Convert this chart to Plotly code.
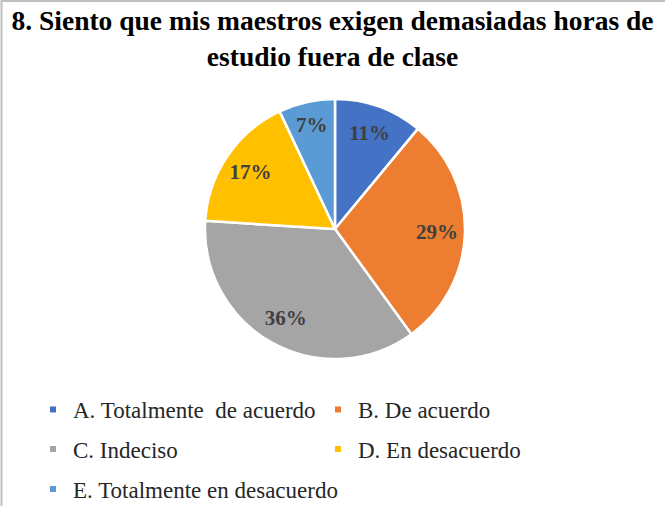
import plotly.graph_objects as go

categories = ["A. Totalmente\u00a0 de acuerdo", "B. De acuerdo", "C. Indeciso",
              "D. En desacuerdo", "E. Totalmente en desacuerdo"]
values = [11, 29, 36, 17, 7]
colors = ["#4472C4", "#ED7D31", "#A5A5A5", "#FFC000", "#5B9BD5"]
title_text = "8. Siento que mis maestros exigen demasiadas horas de<br>estudio fuera de clase"

W, H = 665, 506
SERIF = "Liberation Serif"
pie_domain = dict(x=[205 / W, 465 / W], y=[(H - 359) / H, (H - 99) / H])

fig = go.Figure()
# base pie (filled slices)
fig.add_trace(go.Pie(
    labels=categories, values=values, sort=False, direction="clockwise", rotation=0,
    marker=dict(colors=colors, line=dict(color="white", width=2.5)),
    textinfo="none", showlegend=False, hoverinfo="label+percent",
    domain=pie_domain,
))
# label layer (transparent ring, moves data labels outward like the original)
fig.add_trace(go.Pie(
    labels=categories, values=values, sort=False, direction="clockwise", rotation=0,
    hole=0.57,
    marker=dict(colors=["rgba(0,0,0,0)"] * len(values), line=dict(width=0)),
    texttemplate="%{percent:.0%}", textposition="inside", insidetextorientation="horizontal",
    textfont=dict(family=SERIF, size=21, color="#404040", weight="bold"),
    showlegend=False, hoverinfo="skip",
    domain=pie_domain,
))

legend_rows = ["legend", "legend", "legend2", "legend2", "legend3"]
for name, col, lg in zip(categories, colors, legend_rows):
    fig.add_trace(go.Scatter(
        x=[None], y=[None], mode="markers", name=name, legend=lg,
        marker=dict(symbol="square", size=6, color=col), hoverinfo="skip",
    ))

leg_font = dict(family=SERIF, size=23, color="#262626")
leg_common = dict(orientation="h", xanchor="left", yanchor="middle",
                  entrywidthmode="pixels", font=leg_font,
                  bgcolor="rgba(0,0,0,0)", borderwidth=0, itemwidth=30)
x_leg = 33 / W
fig.update_layout(
    width=W, height=H, margin=dict(l=0, r=0, t=0, b=0, autoexpand=False),
    paper_bgcolor="white", plot_bgcolor="white",
    title=dict(text=title_text, x=0.5, xanchor="center", y=1 - 30 / H, yanchor="top",
               xref="paper", yref="paper",
               font=dict(family=SERIF, size=27.5, color="black", weight="bold")),
    xaxis=dict(visible=False), yaxis=dict(visible=False),
    legend=dict(x=x_leg, y=1 - 409.5 / H, entrywidth=240, **leg_common),
    legend2=dict(x=x_leg, y=1 - 449 / H, entrywidth=240, **leg_common),
    legend3=dict(x=x_leg, y=1 - 489 / H, entrywidth=0, **leg_common),
    shapes=[dict(type="rect", xref="paper", yref="paper", x0=1.5 / W, x1=1.05, y0=-0.05,
                 y1=1 - 1 / H, line=dict(color="#BFBFBF", width=2), fillcolor="rgba(0,0,0,0)",
                 layer="above")],
)
fig.write_html("out.html", config={"displayModeBar": False},
               post_script="document.body.style.margin='0';document.body.style.overflow='hidden';")
